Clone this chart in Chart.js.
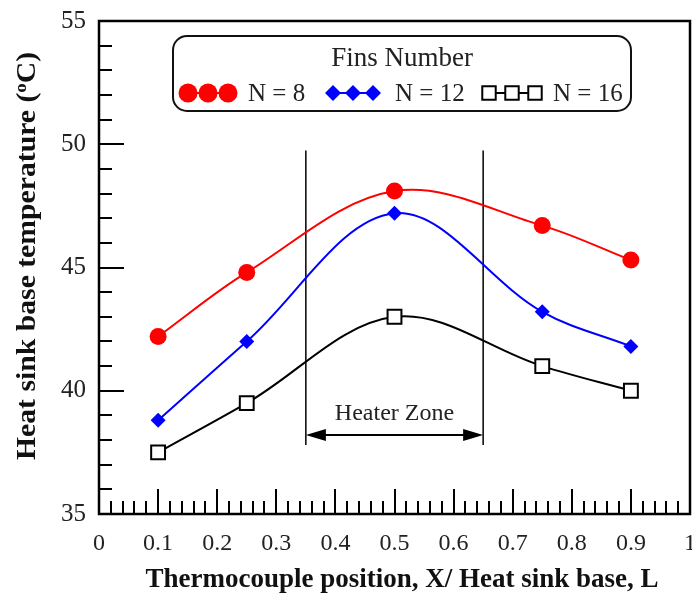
<!DOCTYPE html>
<html><head><meta charset="utf-8">
<script src="https://cdn.jsdelivr.net/npm/chart.js@4.4.1/dist/chart.umd.min.js"></script>
<style>html,body{margin:0;padding:0;background:#fff}#wrap{width:692px;height:601px;position:relative}</style>
</head><body><div id="wrap"><canvas id="c" width="692" height="601"></canvas></div>
<script>
// ---- data ----
const positions = [0.1, 0.25, 0.5, 0.75, 0.9];
const tempN8  = [42.2, 44.8, 48.1, 46.7, 45.3];
const tempN12 = [38.8, 42.0, 47.2, 43.2, 41.8];
const tempN16 = [37.5, 39.5, 43.0, 41.0, 40.0];
const seriesLabels = ['N = 8', 'N = 12', 'N = 16'];
const legendTitle = 'Fins Number';
const xTitle = 'Thermocouple position, X/ Heat sink base, L';
const yTitleParts = ['Heat sink base temperature (', 'o', 'C)'];
const xTickValues = [0, 0.1, 0.2, 0.3, 0.4, 0.5, 0.6, 0.7, 0.8, 0.9, 1];
const yTickValues = [35, 40, 45, 50, 55];
const heaterZone = [0.35, 0.65];      // x extent of heater zone
const heaterLineSpan = [37.8, 49.75]; // y extent of the vertical lines
const heaterArrowY = 38.2;
const heaterTextY = 39.05;
const heaterLabel = 'Heater Zone';

const SERIF = '"Liberation Serif", "Times New Roman", serif';
const toPts = ys => positions.map((x, i) => ({x: x, y: ys[i]}));

function drawMarker(ctx, style, x, y, r, color) {
  ctx.save();
  ctx.beginPath();
  if (style === 'circle') {
    ctx.arc(x, y, r, 0, Math.PI * 2);
    ctx.fillStyle = color; ctx.fill();
  } else if (style === 'rectRot') {
    ctx.moveTo(x - r, y); ctx.lineTo(x, y - r); ctx.lineTo(x + r, y); ctx.lineTo(x, y + r); ctx.closePath();
    ctx.fillStyle = color; ctx.fill();
  } else {
    const s = r * Math.SQRT1_2;
    ctx.rect(x - s, y - s, 2 * s, 2 * s);
    ctx.fillStyle = '#fff'; ctx.fill();
    ctx.lineWidth = 2; ctx.strokeStyle = color; ctx.stroke();
  }
  ctx.restore();
}

const decorPlugin = {
  id: 'decor',
  beforeDatasetsDraw(chart) {
    const {ctx, scales: {x, y}} = chart;
    ctx.save();
    ctx.strokeStyle = '#000';
    ctx.lineWidth = 1.5;
    heaterZone.forEach(v => {
      const px = x.getPixelForValue(v);
      ctx.beginPath();
      ctx.moveTo(px, y.getPixelForValue(heaterLineSpan[0]));
      ctx.lineTo(px, y.getPixelForValue(heaterLineSpan[1]));
      ctx.stroke();
    });
    const x1 = x.getPixelForValue(heaterZone[0]), x2 = x.getPixelForValue(heaterZone[1]);
    const ay = y.getPixelForValue(heaterArrowY);
    ctx.beginPath(); ctx.moveTo(x1 + 10, ay); ctx.lineTo(x2 - 10, ay); ctx.lineWidth = 2; ctx.stroke();
    ctx.fillStyle = '#000';
    ctx.beginPath(); ctx.moveTo(x1, ay); ctx.lineTo(x1 + 20, ay - 6); ctx.lineTo(x1 + 20, ay + 6); ctx.closePath(); ctx.fill();
    ctx.beginPath(); ctx.moveTo(x2, ay); ctx.lineTo(x2 - 20, ay - 6); ctx.lineTo(x2 - 20, ay + 6); ctx.closePath(); ctx.fill();
    ctx.font = '24px ' + SERIF;
    ctx.textAlign = 'center'; ctx.textBaseline = 'middle';
    ctx.fillStyle = '#222';
    ctx.fillText(heaterLabel, (x1 + x2) / 2, y.getPixelForValue(heaterTextY));
    ctx.restore();
  },
  afterDraw(chart) {
    const {ctx, chartArea: a, scales: {x, y}} = chart;
    ctx.save();
    // inward ticks
    ctx.strokeStyle = '#000'; ctx.lineWidth = 2;
    for (let i = 0; i <= 50; i++) {
      const v = i / 50;
      const px = Math.round(x.getPixelForValue(v));
      const len = (i % 5 === 0) ? 25 : 13;
      ctx.beginPath(); ctx.moveTo(px, a.bottom); ctx.lineTo(px, a.bottom - len); ctx.stroke();
    }
    for (let v = 35; v <= 55; v++) {
      const py = Math.round(y.getPixelForValue(v));
      const len = (v % 5 === 0) ? 25 : 13;
      ctx.beginPath(); ctx.moveTo(a.left, py); ctx.lineTo(a.left + len, py); ctx.stroke();
    }
    ctx.lineWidth = 2.5;
    ctx.strokeRect(a.left, a.top, a.right - a.left, a.bottom - a.top);

    // x title
    ctx.fillStyle = '#111';
    ctx.font = 'bold 27px ' + SERIF;
    ctx.textAlign = 'center'; ctx.textBaseline = 'middle';
    ctx.fillText(xTitle, 402, 580);

    // y title with superscript
    const big = 'bold 27px ' + SERIF, small = 'bold 17px ' + SERIF;
    ctx.font = big; const w0 = ctx.measureText(yTitleParts[0]).width, w2 = ctx.measureText(yTitleParts[2]).width;
    ctx.font = small; const w1 = ctx.measureText(yTitleParts[1]).width;
    const total = w0 + w1 + w2;
    ctx.translate(35, 256);
    ctx.rotate(-Math.PI / 2);
    ctx.scale(1.1, 1);
    ctx.textBaseline = 'alphabetic'; ctx.textAlign = 'left';
    let sx = -total / 2;
    ctx.font = big; ctx.fillText(yTitleParts[0], sx, 0); sx += w0;
    ctx.font = small; ctx.fillText(yTitleParts[1], sx, -9); sx += w1;
    ctx.font = big; ctx.fillText(yTitleParts[2], sx, 0);
    ctx.restore();

    // legend box
    ctx.save();
    const bx = 173, by = 36, bw = 458, bh = 75, br = 14;
    ctx.beginPath();
    ctx.roundRect(bx, by, bw, bh, br);
    ctx.fillStyle = '#fff'; ctx.fill();
    ctx.lineWidth = 2; ctx.strokeStyle = '#111'; ctx.stroke();
    ctx.fillStyle = '#222';
    ctx.font = '27px ' + SERIF; ctx.textAlign = 'center'; ctx.textBaseline = 'middle';
    ctx.fillText(legendTitle, bx + bw / 2, by + 23);
    ctx.font = '25px ' + SERIF;
    const ly = by + 57;
    const items = [
      {style: 'circle', color: '#ff0000', r: 9.5, xs: [188, 208, 228], tx: 248},
      {style: 'rectRot', color: '#0000ff', r: 8, xs: [333, 353, 373], tx: 395},
      {style: 'rect', color: '#000000', r: 9.5, xs: [489, 512, 535], tx: 553}
    ];
    items.forEach((it, i) => {
      ctx.beginPath(); ctx.moveTo(it.xs[0], ly); ctx.lineTo(it.xs[2], ly);
      ctx.strokeStyle = it.color; ctx.lineWidth = 2; ctx.stroke();
      it.xs.forEach(px => drawMarker(ctx, it.style, px, ly, it.r, it.color));
      ctx.fillStyle = '#222'; ctx.textAlign = 'left';
      ctx.fillText(seriesLabels[i], it.tx, ly + 1);
    });
    ctx.restore();
  }
};

new Chart(document.getElementById('c'), {
  type: 'scatter',
  data: {
    datasets: [
      {label: seriesLabels[0], data: toPts(tempN8), showLine: true, tension: 0.35,
       borderColor: '#ff0000', backgroundColor: '#ff0000', pointBackgroundColor: '#ff0000', pointBorderColor: '#ff0000',
       borderWidth: 2, pointStyle: 'circle', pointRadius: 8.5, pointBorderWidth: 0},
      {label: seriesLabels[1], data: toPts(tempN12), showLine: true, tension: 0.35,
       borderColor: '#0000ff', backgroundColor: '#0000ff', pointBackgroundColor: '#0000ff', pointBorderColor: '#0000ff',
       borderWidth: 2, pointStyle: 'rectRot', pointRadius: 7.5, pointBorderWidth: 0},
      {label: seriesLabels[2], data: toPts(tempN16), showLine: true, tension: 0.35,
       borderColor: '#000000', backgroundColor: '#ffffff', pointBackgroundColor: '#ffffff', pointBorderColor: '#000000',
       borderWidth: 2, pointStyle: 'rect', pointRadius: 9.8, pointBorderWidth: 2}
    ]
  },
  options: {
    responsive: false, animation: false,
    layout: {autoPadding: false, padding: {left: 0, right: 2, top: 21, bottom: 0}},
    plugins: {legend: {display: false}, tooltip: {enabled: false}},
    scales: {
      x: {
        type: 'linear', min: 0, max: 1,
        afterBuildTicks: s => { s.ticks = xTickValues.map(v => ({value: v})); },
        afterFit: s => { s.height = 87; s.paddingLeft = 0; s.paddingRight = 0; },
        grid: {display: false, drawTicks: false},
        border: {display: false},
        ticks: {font: {family: SERIF, size: 24}, color: '#222', padding: 15, maxRotation: 0,
                autoSkip: false, callback: v => String(v)},
        title: {display: false}
      },
      y: {
        type: 'linear', min: 35, max: 55,
        afterBuildTicks: s => { s.ticks = yTickValues.map(v => ({value: v})); },
        afterFit: s => { s.width = 99; s.paddingTop = 0; s.paddingBottom = 0; },
        grid: {display: false, drawTicks: false},
        border: {display: false},
        ticks: {font: {family: SERIF, size: 25}, color: '#222', padding: 13},
        title: {display: false}
      }
    }
  },
  plugins: [decorPlugin]
});
</script>
</body></html>
